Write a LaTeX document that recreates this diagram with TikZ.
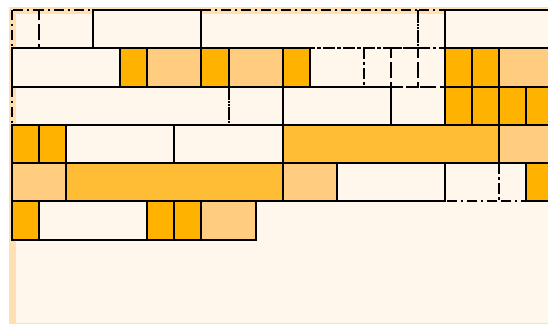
\documentclass[tikz,border=0pt]{standalone}
\usepackage{xcolor}
\usepackage{tikz}
\definecolor{creamfill}{HTML}{FFF7EC}
\definecolor{bandfill}{HTML}{FFE0B2}
\definecolor{darkfill}{HTML}{FFB300}
\definecolor{midfill}{HTML}{FFBD36}
\definecolor{lightfill}{HTML}{FFCC80}
\tikzset{
  griditem/.style={draw=black,line width=2pt,line join=miter},
  gapcell/.style={draw=black,line width=2pt,
    dash pattern=on 10pt off 4pt on 2pt off 4pt},
  bandstrip/.style={fill=bandfill,draw=none}
}
\newcommand{\colw}{27.07}
\newcommand{\rowh}{38.25}

\begin{document}
\begin{tikzpicture}[x=1pt,y=-1pt]
  \useasboundingbox (0,0) rectangle (548,324);
  \clip (0,0) rectangle (548,324);
  % container with its padding band
  \fill[creamfill] (9,7) rectangle (548,324);
  \fill[bandstrip] (9,7) rectangle (548,14);
  \fill[bandstrip] (9,7) rectangle (16,324);
  \draw[bandfill,line width=1pt] (9,323) -- (548,323);
  % empty grid areas
  \foreach \c/\r/\w in {0/0/1,1/0/2,7/0/8,15/0/1,
                        11/1/2,13/1/1,14/1/1,15/1/1,
                        0/2/8,8/2/2,14/2/2,
                        16/4/2,18/4/1}
    \draw[gapcell] (12+\colw*\c,10+\rowh*\r) rectangle ++(\colw*\w,\rowh);
  % placed items
  \foreach \c/\r/\w/\col in {3/0/4/creamfill,16/0/5/creamfill,
      0/1/4/creamfill,4/1/1/darkfill,5/1/2/lightfill,7/1/1/darkfill,
      8/1/2/lightfill,10/1/1/darkfill,16/1/1/darkfill,17/1/1/darkfill,
      18/1/3/lightfill,
      10/2/4/creamfill,16/2/1/darkfill,17/2/1/darkfill,18/2/1/darkfill,
      19/2/1/darkfill,
      0/3/1/darkfill,1/3/1/darkfill,2/3/4/creamfill,6/3/4/creamfill,
      10/3/8/midfill,18/3/3/lightfill,
      0/4/2/lightfill,2/4/8/midfill,10/4/2/lightfill,12/4/4/creamfill,
      19/4/2/darkfill,
      0/5/1/darkfill,1/5/4/creamfill,5/5/1/darkfill,6/5/1/darkfill,
      7/5/2/lightfill}
    \draw[griditem,fill=\col] (12+\colw*\c,10+\rowh*\r) rectangle ++(\colw*\w,\rowh);
\end{tikzpicture}
\end{document}
